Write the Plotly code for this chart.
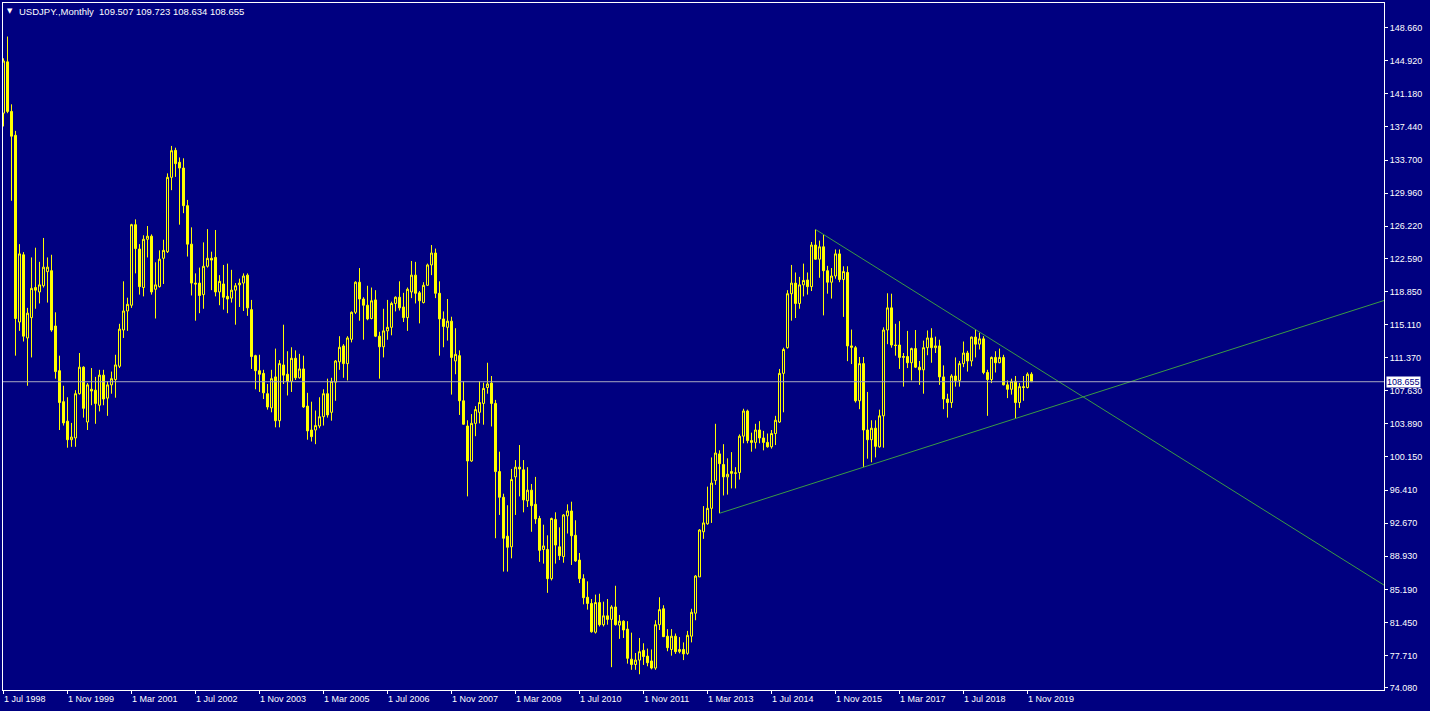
import pandas as pd
import plotly.graph_objects as go

symbol_title = "USDJPY.,Monthly"

# Monthly OHLC, Jul 1998 .. Dec 2019
opens = [
    139.0, 144.8, 139.2, 136.5, 115.4, 123.0,
    113.6, 115.9, 119.3, 118.8, 119.5, 121.1, 121.2, 114.95, 109.9, 106.4, 104.2, 102.1,
    102.3, 107.3, 110.3, 104.1, 107.8, 107.7, 106.0, 109.4, 106.8, 108.3, 108.9, 110.4,
    114.5, 116.65, 117.3, 126.4, 123.65, 119.3, 124.75, 125.1, 119.1, 119.4, 122.6, 123.35,
    131.75, 134.8, 133.45, 132.8, 128.55, 124.2, 119.8, 119.8, 118.5, 121.7, 122.6, 122.7,
    118.8, 119.7, 118.3, 118.1, 119.0, 119.6, 119.8, 120.7, 116.8, 111.6, 109.9, 109.6,
    107.3, 105.7, 109.2, 104.25, 110.55, 109.5, 108.7, 111.3, 109.1, 110.1, 105.9, 103.2,
    103.2, 103.65, 104.7, 107.3, 105.2, 108.6, 110.9, 112.7, 110.7, 113.45, 116.5, 119.9,
    118.0, 117.3, 115.8, 117.9, 113.8, 112.6, 114.4, 114.8, 117.5, 118.2, 117.1, 115.9,
    118.8, 120.7, 118.7, 117.6, 119.55, 121.85, 123.2, 118.65, 115.75, 114.8, 115.5, 111.0,
    111.6, 106.5, 103.65, 99.7, 103.95, 105.2, 106.2, 108.0, 108.5, 106.2, 98.5, 95.6,
    91.2, 90.0, 97.9, 99.0, 98.7, 95.2, 96.4, 94.8, 93.2, 89.7, 89.7, 86.4,
    93.1, 90.0, 88.9, 93.5, 94.05, 91.3, 88.5, 86.4, 84.3, 83.6, 80.35, 83.7,
    81.2, 82.2, 81.8, 83.2, 81.15, 81.6, 80.7, 77.3, 76.7, 77.2, 78.3, 77.65,
    77.1, 76.3, 81.2, 83.0, 79.9, 78.4, 79.9, 78.15, 78.4, 77.96, 79.9, 82.5,
    86.6, 91.7, 92.6, 94.35, 97.5, 100.5, 99.3, 97.9, 98.5, 98.3, 98.4, 102.5,
    105.35, 102.0, 101.8, 103.2, 102.3, 101.8, 101.3, 102.8, 104.1, 109.6, 112.5, 118.6,
    119.8, 117.5, 119.6, 120.15, 119.4, 124.1, 122.5, 123.9, 121.2, 119.9, 120.6, 123.1,
    120.2, 121.0, 112.7, 112.5, 106.5, 110.7, 103.2, 102.1, 103.4, 101.3, 104.8, 114.5,
    117.0, 112.8, 112.8, 111.4, 111.5, 110.8, 112.4, 110.3, 110.0, 112.5, 113.6, 112.5,
    112.7, 109.2, 106.7, 106.3, 109.3, 108.8, 110.7, 111.9, 111.0, 113.7, 112.9, 113.5,
    109.7, 108.9, 111.4, 110.8, 111.4, 108.3, 107.8, 108.7, 106.3, 108.1, 108.0, 109.507,
]
highs = [
    145.2, 147.66, 140.0, 137.0, 124.2, 123.3,
    117.0, 122.7, 123.8, 122.2, 124.9, 122.7, 123.0, 116.5, 111.6, 108.2, 106.9, 104.0,
    107.7, 111.9, 110.4, 108.5, 110.2, 109.2, 110.0, 110.0, 108.7, 109.8, 111.7, 115.2,
    120.0, 118.15, 126.5, 127.0, 124.2, 125.2, 126.25, 125.3, 122.15, 123.5, 124.7, 132.2,
    135.3, 135.1, 134.0, 133.9, 129.2, 126.1, 120.9, 121.55, 124.4, 125.9, 123.35, 125.8,
    120.7, 121.85, 122.0, 121.3, 119.8, 120.3, 120.9, 120.9, 117.9, 111.7, 111.7, 110.0,
    108.4, 110.0, 112.4, 111.1, 115.1, 112.1, 112.55, 112.2, 111.8, 111.6, 107.4, 106.4,
    105.4, 106.9, 107.8, 109.0, 109.1, 111.1, 113.8, 112.9, 113.8, 116.6, 120.0, 121.5,
    118.2, 119.5, 119.3, 119.0, 114.3, 116.9, 117.9, 117.7, 118.3, 120.0, 118.7, 119.3,
    122.3, 122.2, 118.9, 119.9, 122.0, 124.1, 123.7, 120.0, 116.6, 118.0, 116.0, 114.7,
    112.2, 108.7, 104.3, 105.0, 105.9, 108.7, 108.55, 110.8, 109.3, 106.6, 100.75, 96.0,
    94.7, 98.8, 99.8, 101.5, 99.8, 99.0, 97.1, 97.9, 93.5, 92.5, 91.3, 93.3,
    93.9, 92.2, 93.7, 94.8, 95.1, 93.0, 89.3, 86.9, 86.1, 84.1, 84.6, 84.7,
    83.8, 84.1, 83.4, 85.6, 82.3, 81.7, 81.6, 80.3, 78.0, 79.7, 79.1, 78.5,
    78.4, 81.7, 84.3, 83.4, 80.7, 80.7, 80.2, 79.8, 79.2, 80.5, 83.0, 86.8,
    92.0, 94.6, 96.8, 100.1, 103.9, 100.9, 101.6, 100.0, 100.7, 99.0, 102.7, 105.6,
    105.5, 102.9, 103.9, 104.2, 103.1, 102.8, 103.2, 104.8, 110.1, 112.5, 119.0, 121.85,
    121.0, 120.5, 122.0, 121.0, 124.45, 125.86, 124.6, 125.3, 121.75, 121.5, 123.6, 123.6,
    121.7, 121.7, 114.55, 112.7, 111.45, 111.45, 107.5, 104.3, 104.3, 105.5, 114.8, 118.65,
    118.6, 115.2, 115.5, 111.9, 114.4, 112.5, 114.5, 111.0, 113.3, 114.45, 114.7, 113.75,
    113.4, 110.5, 107.3, 109.5, 111.4, 111.0, 113.2, 112.15, 113.75, 114.55, 114.2, 113.8,
    110.0, 111.5, 112.1, 112.4, 111.7, 108.8, 109.0, 109.3, 108.5, 109.3, 109.7, 109.723,
]
lows = [
    137.5, 139.0, 129.1, 111.6, 114.4, 113.2,
    108.2, 111.4, 116.9, 117.5, 119.3, 117.6, 114.3, 109.0, 103.2, 103.7, 101.2, 101.3,
    101.3, 107.2, 104.6, 103.2, 106.0, 103.9, 105.3, 106.0, 104.8, 107.3, 106.85, 110.2,
    113.6, 114.4, 117.0, 120.9, 118.5, 118.3, 122.7, 118.5, 115.8, 119.3, 119.7, 123.2,
    130.3, 131.8, 126.4, 127.7, 122.8, 118.4, 115.55, 116.4, 116.9, 121.55, 119.0, 118.3,
    117.3, 116.8, 116.4, 117.6, 115.1, 117.1, 116.65, 116.1, 110.1, 107.8, 107.5, 106.7,
    105.5, 105.2, 103.5, 103.5, 108.4, 107.1, 107.5, 108.85, 109.0, 105.7, 102.1, 101.9,
    101.6, 103.4, 103.7, 104.6, 104.25, 106.5, 110.0, 109.1, 108.8, 113.1, 116.3, 115.55,
    113.4, 115.6, 115.7, 113.7, 109.0, 111.4, 113.4, 113.9, 116.6, 116.7, 115.4, 114.4,
    118.1, 117.5, 115.25, 117.5, 119.5, 120.7, 118.1, 111.6, 112.55, 113.3, 107.2, 109.5,
    104.9, 103.8, 95.7, 99.6, 102.5, 103.95, 103.8, 107.3, 103.6, 90.97, 93.6, 87.2,
    87.2, 88.7, 93.6, 95.7, 93.9, 94.5, 91.7, 92.6, 88.3, 88.1, 84.8, 86.2,
    88.1, 88.5, 88.2, 91.5, 87.95, 88.3, 85.9, 83.5, 82.9, 80.3, 80.2, 81.0,
    81.0, 81.2, 76.4, 81.1, 79.6, 79.7, 76.8, 76.1, 76.1, 75.6, 76.65, 76.5,
    76.15, 76.1, 80.6, 79.8, 78.2, 77.7, 77.9, 77.96, 77.2, 77.8, 79.2, 81.7,
    86.6, 90.9, 92.5, 92.7, 97.0, 93.79, 95.8, 95.9, 96.6, 96.6, 97.6, 101.7,
    101.7, 100.75, 101.1, 101.7, 100.9, 101.2, 101.1, 101.5, 104.0, 105.2, 112.4, 115.55,
    115.85, 116.9, 118.3, 118.5, 118.9, 122.45, 120.4, 116.15, 118.6, 118.05, 120.3, 119.9,
    115.98, 110.98, 110.65, 106.3, 105.55, 99.0, 99.96, 99.55, 100.1, 101.2, 101.2, 112.9,
    112.5, 111.6, 110.1, 108.1, 110.2, 108.8, 110.2, 108.3, 107.3, 111.65, 110.8, 111.9,
    108.3, 105.55, 104.6, 105.7, 108.1, 108.1, 110.3, 109.8, 110.4, 111.4, 112.3, 109.5,
    104.8, 108.5, 109.7, 110.75, 108.25, 106.8, 107.2, 104.45, 105.7, 106.5, 107.9, 108.634,
]
closes = [
    144.9, 139.2, 136.4, 115.8, 123.1, 113.8,
    116.4, 119.2, 119.0, 119.6, 121.6, 121.6, 114.5, 109.8, 106.3, 104.0, 102.1, 102.4,
    107.3, 110.3, 105.65, 108.3, 107.6, 106.2, 109.4, 106.7, 108.3, 109.0, 110.55, 114.6,
    116.65, 117.4, 126.4, 123.7, 119.4, 124.75, 125.1, 118.8, 119.6, 122.5, 123.5, 131.75,
    134.76, 133.3, 132.8, 128.55, 124.2, 119.8, 119.7, 118.4, 121.7, 122.6, 122.4, 118.8,
    120.0, 118.2, 118.0, 119.0, 119.5, 119.8, 120.6, 117.0, 111.5, 109.9, 109.5, 107.4,
    105.8, 109.0, 104.25, 110.7, 109.4, 108.7, 111.3, 109.1, 110.1, 105.8, 103.1, 102.45,
    103.7, 104.7, 107.3, 104.9, 108.7, 111.0, 112.55, 110.7, 113.6, 116.5, 119.9, 118.0,
    117.3, 115.75, 117.8, 113.8, 112.6, 114.4, 114.8, 117.5, 118.2, 117.0, 115.9, 119.1,
    120.7, 118.65, 117.8, 119.55, 121.85, 123.2, 118.65, 115.75, 114.9, 115.5, 111.4, 111.75,
    106.5, 103.85, 99.7, 103.95, 105.5, 106.3, 107.9, 108.4, 106.2, 98.5, 95.6, 90.97,
    89.95, 97.6, 99.0, 98.8, 95.3, 96.4, 94.65, 93.15, 89.6, 90.1, 86.4, 93.2,
    90.2, 89.0, 93.6, 94.05, 91.25, 88.4, 86.4, 84.25, 83.6, 80.4, 83.7, 81.2,
    82.2, 81.8, 83.2, 81.2, 81.6, 80.6, 77.4, 76.7, 77.2, 78.15, 77.6, 76.9,
    76.3, 81.2, 82.9, 79.85, 78.6, 79.9, 78.15, 78.4, 77.9, 80.0, 82.6, 86.7,
    91.9, 92.7, 94.35, 97.2, 100.6, 99.4, 97.9, 98.2, 98.3, 98.35, 102.5, 105.35,
    102.0, 101.8, 103.2, 102.3, 101.8, 101.3, 102.8, 104.3, 109.6, 112.3, 118.6, 119.8,
    117.5, 119.6, 120.1, 119.4, 124.1, 122.5, 123.9, 121.2, 119.9, 120.6, 123.1, 120.2,
    121.1, 112.7, 112.55, 106.5, 110.7, 103.2, 102.1, 103.4, 101.35, 104.8, 114.5, 117.0,
    112.8, 112.75, 111.4, 111.5, 110.8, 112.4, 110.3, 110.0, 112.5, 113.6, 112.5, 112.7,
    109.2, 106.7, 106.3, 109.3, 108.8, 110.7, 111.9, 111.0, 113.7, 112.9, 113.5, 109.7,
    108.9, 111.4, 110.8, 111.4, 108.3, 107.8, 108.7, 106.3, 108.1, 108.0, 109.5, 108.655,
]
months = pd.date_range("1998-07-01", periods=len(opens), freq="MS")

tick_dates = ["1998-07-01", "1999-11-01", "2001-03-01", "2002-07-01", "2003-11-01",
              "2005-03-01", "2006-07-01", "2007-11-01", "2009-03-01", "2010-07-01",
              "2011-11-01", "2013-03-01", "2014-07-01", "2015-11-01", "2017-03-01",
              "2018-07-01", "2019-11-01"]
tick_labels = ["1 Jul 1998", "1 Nov 1999", "1 Mar 2001", "1 Jul 2002", "1 Nov 2003",
               "1 Mar 2005", "1 Jul 2006", "1 Nov 2007", "1 Mar 2009", "1 Jul 2010",
               "1 Nov 2011", "1 Mar 2013", "1 Jul 2014", "1 Nov 2015", "1 Mar 2017",
               "1 Jul 2018", "1 Nov 2019"]

price_ticks = [148.660, 144.920, 141.180, 137.440, 133.700, 129.960, 126.220,
               122.590, 118.850, 115.110, 111.370, 107.630, 103.890, 100.150,
               96.410, 92.670, 88.930, 85.190, 81.450, 77.710, 74.080]
price_tick_labels = [f"{v:.3f}" for v in price_ticks]

upper_trend_dates = ["2015-06-01", "2018-10-01"]
upper_trend_prices = [125.86, 114.55]
lower_trend_dates = ["2013-06-01", "2016-06-01"]
lower_trend_prices = [93.79, 99.00]

BG = "#000080"
YEL = "#FFFF00"
WHITE = "#FFFFFF"
FONT = "Liberation Sans"


def midx(d):
    d = pd.Timestamp(d)
    return (d.year - 1998) * 12 + d.month - 7


x = [midx(d) for d in months]
x_range = [-0.125, 345.125]
y_range = [73.82, 151.45]

fig = go.Figure()
fig.add_trace(go.Candlestick(
    x=x, open=opens, high=highs, low=lows, close=closes,
    increasing=dict(line=dict(color=YEL, width=1), fillcolor=BG),
    decreasing=dict(line=dict(color=YEL, width=1), fillcolor=YEL),
    whiskerwidth=0, hoverinfo="skip", showlegend=False,
))


def ray(dates, prices):
    x0, x1 = midx(dates[0]), midx(dates[1])
    slope = (prices[1] - prices[0]) / (x1 - x0)
    xe = x_range[1]
    return [x0, xe], [prices[0], prices[0] + slope * (xe - x0)]


for d, p in ((upper_trend_dates, upper_trend_prices), (lower_trend_dates, lower_trend_prices)):
    rx, ry = ray(d, p)
    fig.add_trace(go.Scatter(x=rx, y=ry, mode="lines",
                             line=dict(color="#3A9A45", width=1),
                             hoverinfo="skip", showlegend=False))

# current price line
fig.add_shape(type="line", xref="paper", x0=0, x1=1, yref="y",
              y0=closes[-1], y1=closes[-1], line=dict(color="#A8A8C0", width=1))

annotations = []
for d, lab in zip(tick_dates, tick_labels):
    annotations.append(dict(x=midx(d), xref="x", y=0, yref="paper", text=lab,
                            xanchor="left", yanchor="top", showarrow=False,
                            xshift=-2, yshift=-2,
                            font=dict(family=FONT, size=9, color=WHITE)))
annotations.append(dict(x=1, xref="paper", y=closes[-1], yref="y",
                        text=f"{closes[-1]:.3f}", xanchor="left", yanchor="middle",
                        showarrow=False, xshift=2, bgcolor=WHITE, borderpad=0,
                        font=dict(family=FONT, size=9, color=BG)))
annotations.append(dict(x=0, xref="paper", y=1, yref="paper", text="\u25BC",
                        xanchor="left", yanchor="middle", showarrow=False,
                        xshift=2, yshift=-8,
                        font=dict(family="DejaVu Sans", size=7, color=WHITE)))
o, h, l, c = opens[-1], highs[-1], lows[-1], closes[-1]
header = f"{symbol_title}\u00a0\u00a0{o:.3f} {h:.3f} {l:.3f} {c:.3f}"
annotations.append(dict(x=0, xref="paper", y=1, yref="paper", text=header,
                        xanchor="left", yanchor="middle", showarrow=False,
                        xshift=14, yshift=-8,
                        font=dict(family=FONT, size=9.5, color=WHITE)))

fig.update_layout(
    width=1430, height=711,
    margin=dict(l=3, r=46, t=3, b=21, pad=0),
    paper_bgcolor=BG, plot_bgcolor=BG,
    boxgap=0.5, boxgroupgap=0,
    annotations=annotations,
    xaxis=dict(range=x_range, showgrid=False, zeroline=False,
               showline=True, mirror=True, linecolor=WHITE, linewidth=1,
               ticks="outside", ticklen=3, tickcolor=WHITE, tickwidth=1,
               tickvals=[midx(d) for d in tick_dates], showticklabels=False,
               rangeslider=dict(visible=False), fixedrange=True),
    yaxis=dict(range=y_range, side="right", showgrid=False, zeroline=False,
               showline=True, mirror=True, linecolor=WHITE, linewidth=1,
               ticks="outside", ticklen=3, tickcolor=WHITE, tickwidth=1,
               tickvals=price_ticks, ticktext=price_tick_labels,
               tickfont=dict(family=FONT, size=9, color=WHITE), fixedrange=True),
)

fig.write_html(
    "out.html",
    config={"displayModeBar": False},
    post_script="document.body.style.margin='0';document.body.style.background='#000080';",
)
